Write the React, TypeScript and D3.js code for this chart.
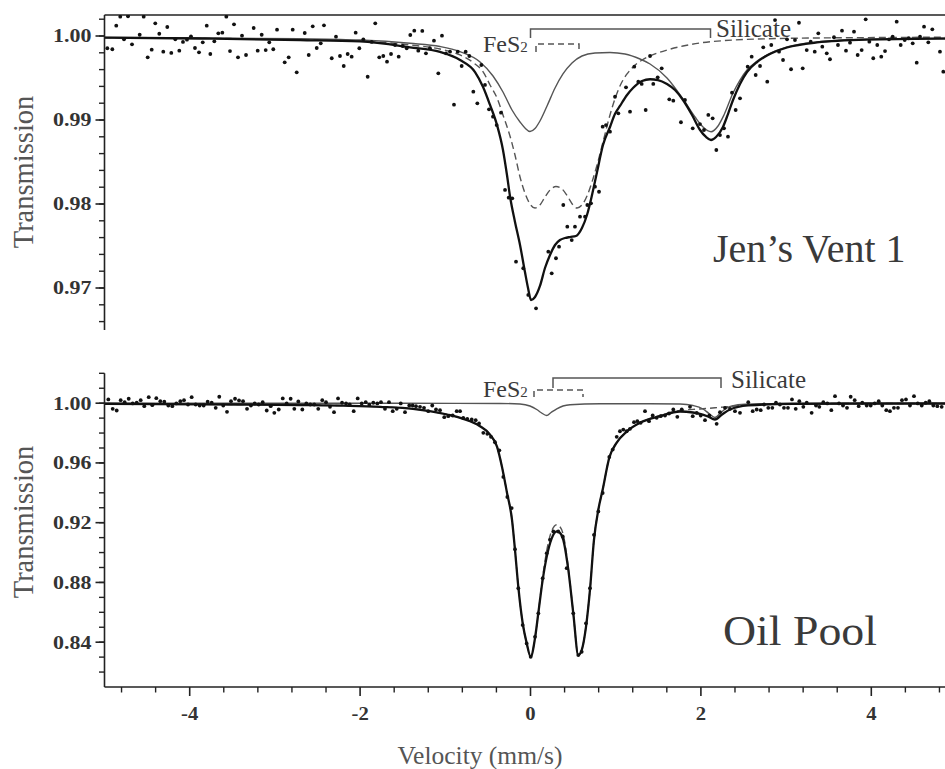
import React from 'react';
import * as d3 from 'd3';

// ---------- DATA (velocity mm/s, transmission) ----------
const topDots: [number, number][] = [
  [-4.967,0.99854],[-4.908,0.99842],[-4.862,1.00123],[-4.815,1.0023],[-4.771,0.99961],[-4.724,1.00235],[-4.677,0.99901],
  [-4.587,1.00015],[-4.54,1.0023],[-4.493,0.99746],[-4.446,0.99837],[-4.404,1.00151],[-4.357,1.00027],[-4.31,0.99813],
  [-4.263,1.00107],[-4.216,0.99798],[-4.169,0.99961],[-4.122,0.99825],[-4.079,0.99929],[-4.032,0.99956],[-3.985,0.99996],
  [-3.938,0.99857],[-3.891,0.99806],[-3.847,0.99925],[-3.8,1.00123],[-3.758,0.99786],[-3.711,0.99937],[-3.664,1.00032],
  [-3.617,1.00039],[-3.57,1.0023],[-3.527,0.99821],[-3.48,1.00139],[-3.433,0.99746],[-3.386,1.00004],[-3.339,0.99774],
  [-3.249,1.00095],[-3.202,0.99825],[-3.155,1.00015],[-3.108,0.99833],[-3.066,0.99925],[-3.019,0.99842],[-2.975,1.00075],
  [-2.885,0.99687],[-2.838,0.99746],[-2.791,1.00075],[-2.744,0.99568],[-2.65,1.00036],[-2.603,0.99774],[-2.556,1.00115],
  [-2.509,0.99857],[-2.462,0.99913],[-2.424,1.00127],[-2.333,0.99735],[-2.283,0.99992],[-2.236,0.99762],[-2.192,0.99643],
  [-2.146,0.99786],[-2.099,0.99754],[-2.052,1.00039],[-2.009,0.99854],[-1.962,0.99961],[-1.911,0.99515],[-1.864,0.99929],
  [-1.822,1.00151],[-1.775,0.99746],[-1.728,0.99762],[-1.684,0.99694],[-1.637,0.99786],[-1.59,0.99893],[-1.547,0.99754],
  [-1.5,0.99881],[-1.453,0.99854],[-1.411,1.00012],[-1.364,1.00063],[-1.317,0.99825],[-1.27,1.0006],[-1.227,0.99794],
  [-1.18,0.99854],[-1.133,0.99944],[-1.082,0.99556],[-1.039,1.00004],[-0.992,0.99794],[-0.945,0.99813],[-0.898,0.99182],
  [-0.854,0.99813],[-0.808,0.99643],[-0.761,0.99813],[-0.718,0.99762],[-0.671,0.99337],[-0.624,0.99199],[-0.577,0.99655],
  [-0.534,0.99417],[-0.487,0.99127],[-0.44,0.99039],[-0.397,0.9894],[-0.346,0.99087],[-0.299,0.98167],[-0.256,0.98075],
  [-0.214,0.98068],[-0.17,0.97313],[-0.085,0.97235],[-0.026,0.96917],[0.065,0.96758],[0.209,0.97432],[0.249,0.97175],
  [0.299,0.97354],[0.335,0.97492],[0.385,0.97988],[0.432,0.9773],[0.484,0.97571],[0.522,0.9773],[0.581,0.97849],
  [0.64,0.97849],[0.667,0.97988],[0.71,0.98008],[0.757,0.98206],[0.804,0.98146],[0.847,0.9892],[0.886,0.9894],
  [0.933,0.98861],[0.992,0.99277],[1.031,0.9908],[1.121,0.99389],[1.168,0.99099],[1.218,0.99635],[1.265,0.99456],
  [1.305,0.99429],[1.352,0.99119],[1.403,0.99762],[1.441,0.99429],[1.493,0.99508],[1.54,0.99615],[1.629,0.99246],
  [1.676,0.9923],[1.766,0.98973],[1.813,0.99238],[1.904,0.98901],[1.989,0.98952],[2.036,0.98881],[2.087,0.9906],
  [2.138,0.9902],[2.181,0.98643],[2.224,0.98821],[2.271,0.98901],[2.318,0.98801],[2.365,0.99325],[2.408,0.99119],
  [2.459,0.99258],[2.549,0.99635],[2.596,0.99754],[2.643,0.99536],[2.694,0.99643],[2.732,0.99865],[2.779,0.99456],
  [2.826,0.99893],[2.87,1.0019],[2.917,0.99813],[2.964,0.99714],[3.011,0.99961],[3.058,0.99604],[3.104,0.99952],
  [3.151,1.00158],[3.195,0.99615],[3.242,0.99833],[3.289,0.99932],[3.336,0.99813],[3.378,1.00032],[3.425,0.99873],
  [3.477,0.99794],[3.515,0.99723],[3.562,0.99985],[3.609,0.99893],[3.656,1.00063],[3.703,0.99825],[3.75,0.9992],
  [3.797,1.00051],[3.84,0.99774],[3.887,0.99833],[3.934,1.00199],[3.977,0.99932],[4.023,0.99735],[4.07,0.99893],
  [4.117,0.99754],[4.161,0.99821],[4.208,0.99961],[4.251,0.99992],[4.298,1.0017],[4.345,0.99893],[4.392,0.99952],
  [4.439,0.99973],[4.486,0.99913],[4.533,0.99682],[4.572,0.99992],[4.619,1.00111],[4.669,0.99925],[4.716,1.0008],
  [4.806,0.99813],[4.845,0.99575],
];

const topTotal: [number, number][] = [
  [-5,0.9998],[-3.879,0.9997],[-2.705,0.99952],[-2.001,0.99935],[-1.414,0.99865],[-1.062,0.9981],[-0.827,0.99714],
  [-0.651,0.99571],[-0.558,0.99396],[-0.475,0.99179],[-0.393,0.9894],[-0.323,0.98643],[-0.276,0.98345],[-0.241,0.98095],
  [-0.182,0.97786],[-0.123,0.97512],[-0.065,0.9719],[-0.029,0.97],[0.006,0.96857],[0.053,0.96893],[0.111,0.97024],
  [0.17,0.97238],[0.229,0.97393],[0.288,0.97512],[0.346,0.97571],[0.405,0.97595],[0.464,0.97607],[0.534,0.97619],
  [0.604,0.97714],[0.663,0.97869],[0.722,0.98107],[0.781,0.98381],[0.851,0.98702],[0.933,0.98917],[0.991,0.99071],
  [1.05,0.99167],[1.133,0.99298],[1.203,0.99381],[1.309,0.99464],[1.403,0.99485],[1.496,0.99476],[1.602,0.99429],
  [1.696,0.99357],[1.79,0.99238],[1.896,0.9906],[1.99,0.98881],[2.06,0.98798],[2.119,0.98762],[2.178,0.98798],
  [2.259,0.98917],[2.318,0.99071],[2.377,0.99238],[2.459,0.99429],[2.541,0.99571],[2.659,0.9969],[2.776,0.99768],
  [3.011,0.99863],[3.363,0.99923],[3.95,0.99956],[4.865,0.99969],[5,0.9997],
];

const topSilicate: [number, number][] = [
  [-5,0.99982],[-3.88,0.99976],[-2.705,0.99967],[-2.001,0.99952],[-1.414,0.99913],[-1.062,0.99875],[-0.827,0.99813],
  [-0.592,0.9969],[-0.44,0.99524],[-0.323,0.99333],[-0.217,0.99119],[-0.123,0.98976],[-0.065,0.98905],[-0.006,0.98863],
  [0.053,0.98899],[0.111,0.98988],[0.194,0.99167],[0.288,0.99381],[0.381,0.99548],[0.487,0.99679],[0.604,0.99762],
  [0.757,0.99798],[0.933,0.99804],[1.109,0.99786],[1.285,0.99726],[1.403,0.99667],[1.602,0.995],[1.79,0.9925],
  [1.931,0.99036],[2.025,0.98917],[2.119,0.98861],[2.201,0.98929],[2.271,0.9906],[2.377,0.99321],[2.459,0.99476],
  [2.541,0.99595],[2.659,0.99702],[2.776,0.99774],[3.011,0.99869],[3.363,0.99929],[3.95,0.99961],[4.865,0.99973],[5,0.99975],
];

const topPyrite: [number, number][] = [
  [-5,0.99981],[-3.879,0.99973],[-2.705,0.99958],[-2.001,0.9994],[-1.414,0.99893],[-1.062,0.99845],[-0.827,0.99774],
  [-0.651,0.99667],[-0.558,0.99575],[-0.475,0.99417],[-0.393,0.99262],[-0.323,0.9906],[-0.241,0.9881],[-0.182,0.98583],
  [-0.123,0.98321],[-0.065,0.98131],[-0.006,0.98],[0.053,0.97952],[0.111,0.97988],[0.17,0.98083],[0.229,0.98167],
  [0.299,0.98208],[0.37,0.98179],[0.44,0.98083],[0.499,0.97988],[0.546,0.97952],[0.604,0.97988],[0.663,0.98095],
  [0.722,0.98262],[0.781,0.98464],[0.851,0.98738],[0.933,0.9906],[0.991,0.9925],[1.05,0.99405],[1.133,0.99548],
  [1.203,0.99631],[1.309,0.99714],[1.403,0.99762],[1.602,0.99833],[1.79,0.99881],[1.99,0.99917],[2.377,0.99952],
  [2.776,0.99967],[3.163,0.99974],[3.95,0.99981],[4.865,0.99985],[5,0.99985],
];

const botDots: [number, number][] = [
  [-4.955,1.00248],[-4.904,0.99624],[-4.857,0.9951],[-4.81,1.00201],[-4.763,1.00067],[-4.716,1.00295],[-4.669,0.9998],
  [-4.622,1.00027],[-4.575,1.00201],[-4.533,0.99799],[-4.481,1.00403],[-4.439,0.99866],[-4.392,1.00336],[-4.345,1.00134],
  [-4.298,1.00094],[-4.251,0.99846],[-4.204,0.99799],[-4.157,0.9998],[-4.11,1.00134],[-4.067,1.00201],[-4.02,0.99913],
  [-3.977,1.00403],[-3.93,0.99913],[-3.883,0.99846],[-3.836,0.99846],[-3.789,1.00094],[-3.742,1.00027],[-3.695,0.99691],
  [-3.653,1.0043],[-3.606,0.99846],[-3.562,0.99423],[-3.515,1.00134],[-3.468,1.00295],[-3.421,1.00181],[-3.374,1.00134],
  [-3.327,0.99624],[-3.281,0.99846],[-3.237,0.9998],[-3.19,0.99913],[-3.143,1.00067],[-3.096,0.9951],[-3.049,0.99799],
  [-3.007,0.99356],[-2.955,0.99577],[-2.908,1.00315],[-2.862,0.9998],[-2.815,1.00295],[-2.772,0.99624],[-2.725,1.00114],
  [-2.678,0.99577],[-2.631,0.9998],[-2.585,0.99913],[-2.538,0.99913],[-2.491,0.99624],[-2.444,1.00201],[-2.4,1.00067],
  [-2.353,0.99758],[-2.306,0.99396],[-2.259,1.00315],[-2.212,1.00027],[-2.165,0.9998],[-2.122,0.99913],[-2.075,0.99463],
  [-2.028,1.00315],[-1.981,0.9998],[-1.934,1.00067],[-1.892,0.99893],[-1.845,1.00027],[-1.798,0.9998],[-1.755,1.00067],
  [-1.708,0.99624],[-1.661,1.00067],[-1.617,0.99463],[-1.57,0.99624],[-1.523,0.9998],[-1.473,0.99396],[-1.423,0.99846],
  [-1.383,0.99846],[-1.344,0.99799],[-1.297,0.99758],[-1.25,0.99691],[-1.2,0.99463],[-1.153,0.99846],[-1.109,0.99577],
  [-1.062,0.9953],[-1.012,0.9906],[-0.965,0.99128],[-0.913,0.99174],[-0.866,0.99463],[-0.827,0.99463],[-0.789,0.9902],
  [-0.742,0.98953],[-0.69,0.98906],[-0.643,0.98859],[-0.604,0.98638],[-0.554,0.98013],[-0.507,0.97946],[-0.464,0.97745],
  [-0.417,0.97383],[-0.366,0.96846],[-0.319,0.9506],[-0.272,0.93718],[-0.221,0.9298],[-0.182,0.90228],[-0.143,0.87611],
  [-0.092,0.85148],[-0.045,0.83919],[0.002,0.8302],[0.053,0.84362],[0.092,0.85933],[0.143,0.88282],[0.19,0.8996],
  [0.229,0.90852],[0.268,0.91409],[0.326,0.91409],[0.378,0.91074],[0.425,0.88953],[0.502,0.85933],[0.561,0.83134],
  [0.601,0.83356],[0.651,0.85262],[0.698,0.87611],[0.745,0.91188],[0.796,0.92752],[0.847,0.93987],[0.925,0.96403],
  [0.965,0.96893],[1.012,0.97745],[1.05,0.98121],[1.089,0.98235],[1.129,0.98121],[1.168,0.98282],[1.215,0.98725],
  [1.254,0.98792],[1.293,0.98685],[1.344,0.99463],[1.391,0.98792],[1.434,0.99174],[1.481,0.9902],[1.528,0.99128],
  [1.579,0.99174],[1.626,0.99309],[1.676,0.99577],[1.723,0.99087],[1.775,0.99577],[1.872,0.99758],[1.904,0.99128],
  [1.951,0.99356],[1.998,0.99174],[2.048,0.98859],[2.099,0.99174],[2.185,0.98617],[2.224,0.99396],[2.283,0.99691],
  [2.342,0.99624],[2.4,0.99463],[2.459,0.99356],[2.556,1.00067],[2.608,0.99463],[2.655,0.99577],[2.702,0.9953],
  [2.741,0.99913],[2.791,0.99691],[2.838,0.99691],[2.881,1.00027],[2.928,0.99913],[2.975,0.99691],[3.022,0.99691],
  [3.069,1.00248],[3.113,0.99624],[3.155,1.00134],[3.202,0.99758],[3.242,1.00027],[3.3,0.99356],[3.351,0.99846],
  [3.39,0.99758],[3.437,1.00067],[3.484,0.9998],[3.531,0.9953],[3.574,1.0047],[3.621,0.9998],[3.668,0.99846],
  [3.715,0.99691],[3.758,1.0043],[3.805,1.00201],[3.852,0.99799],[3.894,1.00027],[3.946,0.99846],[3.993,0.99846],
  [4.04,0.9998],[4.087,1.00134],[4.129,0.99846],[4.176,0.9953],[4.219,0.99463],[4.266,0.99691],[4.313,0.99691],
  [4.36,1.00201],[4.407,1.00248],[4.454,0.99846],[4.501,1.0047],[4.545,0.9998],[4.592,0.99846],[4.638,1.00027],
  [4.681,1.00134],[4.728,0.99846],[4.775,0.99799],[4.826,0.99758],
];

const botTotal: [number, number][] = [
  [-5,0.9996],[-3.879,0.99926],[-2.705,0.99879],[-2.119,0.99826],[-1.766,0.99758],[-1.379,0.99624],[-0.98,0.99242],
  [-0.792,0.98953],[-0.593,0.98456],[-0.475,0.97899],[-0.393,0.97094],[-0.335,0.95752],[-0.276,0.94007],[-0.217,0.92195],
  [-0.182,0.90181],[-0.143,0.87698],[-0.092,0.85282],[-0.045,0.8394],[0.002,0.8302],[0.053,0.84275],[0.092,0.85953],
  [0.143,0.88168],[0.19,0.89711],[0.249,0.90953],[0.308,0.91423],[0.346,0.91322],[0.385,0.90852],[0.444,0.88839],
  [0.502,0.85953],[0.561,0.83134],[0.601,0.8347],[0.651,0.85013],[0.698,0.87497],[0.745,0.90852],[0.796,0.92866],
  [0.847,0.94208],[0.925,0.96356],[1.012,0.97362],[1.129,0.98101],[1.285,0.98685],[1.52,0.99128],[1.755,0.99443],
  [1.907,0.99376],[1.989,0.99289],[2.083,0.99107],[2.165,0.98906],[2.248,0.99242],[2.342,0.99577],[2.553,0.99846],
  [3.081,0.9996],[3.867,0.9998],[5,0.9998],
];

const botPyrite: [number, number][] = [
  [-5,0.9996],[-3.879,0.99926],[-2.705,0.99879],[-2.119,0.99826],[-1.766,0.99758],[-1.379,0.99624],[-0.98,0.99242],
  [-0.792,0.98953],[-0.593,0.98456],[-0.475,0.97899],[-0.393,0.97094],[-0.335,0.95752],[-0.276,0.94007],[-0.217,0.92195],
  [-0.182,0.90181],[-0.143,0.87698],[-0.092,0.85282],[-0.045,0.8394],[0.002,0.8302],[0.053,0.84275],[0.092,0.85953],
  [0.143,0.88369],[0.19,0.90114],[0.249,0.91456],[0.308,0.91859],[0.346,0.91725],[0.385,0.91188],[0.444,0.88973],
  [0.502,0.85953],[0.561,0.83134],[0.601,0.8347],[0.651,0.85013],[0.698,0.87497],[0.745,0.90852],[0.796,0.92866],
  [0.847,0.94208],[0.925,0.96356],[1.012,0.97362],[1.129,0.98101],[1.285,0.98685],[1.52,0.99174],[1.755,0.9951],
  [1.989,0.99611],[2.165,0.99691],[2.342,0.99779],[2.553,0.99879],[3.081,0.9996],[3.867,0.9998],[5,0.9998],
];

const botSilicate: [number, number][] = [
  [-5,0.99993],[-1.532,0.99993],[-0.358,0.9998],[-0.123,0.99946],[-0.006,0.99812],[0.073,0.99577],[0.123,0.99376],
  [0.19,0.99174],[0.241,0.99376],[0.308,0.99624],[0.381,0.99812],[0.464,0.99899],[0.816,0.9996],[1.403,0.99966],
  [1.755,0.99946],[1.907,0.99846],[2.025,0.99611],[2.095,0.99309],[2.165,0.9904],[2.236,0.99376],[2.295,0.99644],
  [2.365,0.99812],[2.518,0.99926],[2.928,0.99966],[5,0.9998],
];

const xMajorTicks = [-4, -2, 0, 2, 4];
const topMajorTicks = [0.97, 0.98, 0.99, 1.0];
const botMajorTicks = [0.84, 0.88, 0.92, 0.96, 1.0];

// ---------- LAYOUT ----------
const W = 945;
const H = 769;
const FONT = "'Liberation Serif', 'Times New Roman', serif";
const TXT = '#3a3a3a';

const x = d3.scaleLinear().domain([-5, 5]).range([104.5, 956.5]);
const yTop = d3.scaleLinear().domain([0.965, 1.0025]).range([330, 15]);
const yBot = d3.scaleLinear().domain([0.81, 1.02]).range([687, 373.3]);

const xMinor = d3.range(-48, 49, 4).map((d) => d / 10).filter((d) => !xMajorTicks.includes(d));
const topMinor = d3.range(966, 1003, 2).map((d) => d / 1000);
const botMinor = d3.range(82, 103, 1).map((d) => d / 100);

function linePath(data: [number, number][], y: d3.ScaleLinear<number, number>) {
  return d3
    .line<[number, number]>()
    .x((d) => x(d[0]))
    .y((d) => y(d[1]))
    .curve(d3.curveMonotoneX)(data) as string;
}

function Panel({
  y, dots, total, silicate, pyrite, majors, minors, fmt, clipId, top, bottom,
}: {
  y: d3.ScaleLinear<number, number>;
  dots: [number, number][];
  total: [number, number][];
  silicate: [number, number][];
  pyrite: [number, number][];
  majors: number[];
  minors: number[];
  fmt: (d: number) => string;
  clipId: string;
  top: number;
  bottom: number;
}) {
  const x0 = x(-5);
  return (
    <g>
      <defs>
        <clipPath id={clipId}>
          <rect x={x0} y={top} width={W - x0} height={bottom - top} />
        </clipPath>
      </defs>
      <g clipPath={`url(#${clipId})`}>
        <path d={linePath(pyrite, y)} fill="none" stroke="#555" strokeWidth={1.4} strokeDasharray="7,4" />
        <path d={linePath(silicate, y)} fill="none" stroke="#555" strokeWidth={1.4} />
        <path d={linePath(total, y)} fill="none" stroke="#111" strokeWidth={2.3} />
        {dots.map((d, i) => (
          <circle key={i} cx={x(d[0])} cy={y(d[1])} r={1.9} fill="#111" />
        ))}
      </g>
      {/* y axis */}
      <line x1={x0} x2={x0} y1={top} y2={bottom} stroke="#222" strokeWidth={1.6} />
      {minors.map((t) => (
        <line key={'m' + t} x1={x0 - 5.5} x2={x0} y1={y(t)} y2={y(t)} stroke="#222" strokeWidth={1.4} />
      ))}
      {majors.map((t) => (
        <g key={'M' + t}>
          <line x1={x0 - 9} x2={x0} y1={y(t)} y2={y(t)} stroke="#222" strokeWidth={1.6} />
          <text transform={`translate(${x0 - 13},${y(t)}) scale(1.22,1)`} dy="0.36em" textAnchor="end"
            fontFamily={FONT} fontWeight="bold" fontSize={18} fill="#333">
            {fmt(t)}
          </text>
        </g>
      ))}
    </g>
  );
}

export default function App() {
  const fmt2 = d3.format('.2f');
  const x0 = x(-5);
  return (
    <div style={{ position: 'absolute', left: 0, top: 0, width: W, height: H, background: '#fff' }}>
      <svg width={W} height={H} viewBox={`0 0 ${W} ${H}`} style={{ display: 'block' }}>
        <rect width={W} height={H} fill="#fff" />
        {/* ---------- Top panel ---------- */}
        <line x1={x0} x2={W} y1={15} y2={15} stroke="#222" strokeWidth={1.6} />
        <Panel y={yTop} dots={topDots} total={topTotal} silicate={topSilicate} pyrite={topPyrite}
          majors={topMajorTicks} minors={topMinor} fmt={fmt2} clipId="clipTop" top={15} bottom={330} />
        {/* annotations top */}
        <text x={483} y={52} fontFamily={FONT} fontSize={24} fill={TXT}>
          FeS<tspan fontSize={15}>2</tspan>
        </text>
        <path d="M530.5,38 V29 H710.5 V38" fill="none" stroke="#555" strokeWidth={1.5} />
        <path d="M536,52 V44 H579 V52" fill="none" stroke="#555" strokeWidth={1.5} strokeDasharray="6,4" />
        <text x={716} y={37} fontFamily={FONT} fontSize={25} fill={TXT}>Silicate</text>
        <text x={713} y={262} fontFamily={FONT} fontSize={40} fill={TXT}>Jen’s Vent 1</text>
        <text transform="translate(33,172) rotate(-90)" textAnchor="middle" fontFamily={FONT} fontSize={28.5} fill="#555">
          Transmission
        </text>

        {/* ---------- Bottom panel ---------- */}
        <Panel y={yBot} dots={botDots} total={botTotal} silicate={botSilicate} pyrite={botPyrite}
          majors={botMajorTicks} minors={botMinor} fmt={fmt2} clipId="clipBot" top={373.3} bottom={687} />
        {/* x axis */}
        <line x1={x0} x2={W} y1={687} y2={687} stroke="#222" strokeWidth={1.6} />
        {xMinor.map((t) => (
          <line key={'xm' + t} x1={x(t)} x2={x(t)} y1={687} y2={692.5} stroke="#222" strokeWidth={1.4} />
        ))}
        {xMajorTicks.map((t) => (
          <g key={'xM' + t}>
            <line x1={x(t)} x2={x(t)} y1={687} y2={696} stroke="#222" strokeWidth={1.6} />
            <text transform={`translate(${x(t)},720) scale(1.15,1)`} textAnchor="middle" fontFamily={FONT}
              fontWeight="bold" fontSize={18} fill="#333">
              {String(t)}
            </text>
          </g>
        ))}
        <text x={480} y={764} textAnchor="middle" fontFamily={FONT} fontSize={25.5} fill="#555">Velocity (mm/s)</text>
        <text transform="translate(33,522) rotate(-90)" textAnchor="middle" fontFamily={FONT} fontSize={28.5} fill="#555">
          Transmission
        </text>
        {/* annotations bottom */}
        <text x={483} y={397} fontFamily={FONT} fontSize={24} fill={TXT}>
          FeS<tspan fontSize={15}>2</tspan>
        </text>
        <path d="M553,388 V378 H721 V388" fill="none" stroke="#555" strokeWidth={1.5} />
        <path d="M534,397 V390 H583 V397" fill="none" stroke="#555" strokeWidth={1.5} strokeDasharray="6,4" />
        <text x={731} y={388} fontFamily={FONT} fontSize={25} fill={TXT}>Silicate</text>
        <text x={723} y={645} fontFamily={FONT} fontSize={42} fill={TXT} textLength={154} lengthAdjust="spacingAndGlyphs">Oil Pool</text>
      </svg>
    </div>
  );
}
